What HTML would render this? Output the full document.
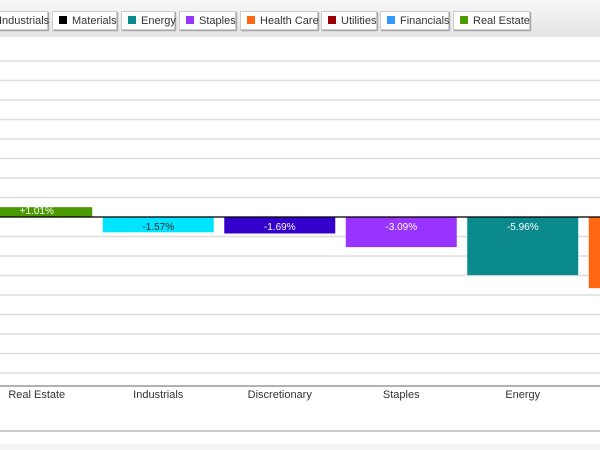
<!DOCTYPE html>
<html><head><meta charset="utf-8"><style>
body{margin:0;width:600px;height:450px;overflow:hidden;background:#fff;font-family:"Liberation Sans",sans-serif;position:relative}
#bar{position:absolute;left:0;top:0;width:600px;height:37px;background:linear-gradient(#f8f8f8,#e4e4e4);}
.btn{position:absolute;top:11px;height:19px;background:#fff;border:1px solid #ccc;box-shadow:1px 1px 1px #999;font-size:11px;line-height:19px;color:#333;white-space:nowrap;box-sizing:border-box;padding-left:6px}
.sw{display:inline-block;width:8px;height:8px;margin-right:5px;vertical-align:-0px}
</style></head><body>
<div id="bar">
<div class="btn" style="left:-8px;width:56px">Industrials</div>
<div class="btn" style="left:52px;width:65px"><span class="sw" style="background:#000"></span>Materials</div>
<div class="btn" style="left:121px;width:54px"><span class="sw" style="background:#0a8a8c"></span>Energy</div>
<div class="btn" style="left:179px;width:57px"><span class="sw" style="background:#9933ff"></span>Staples</div>
<div class="btn" style="left:240px;width:78px"><span class="sw" style="background:#ff6611"></span>Health Care</div>
<div class="btn" style="left:321px;width:56px"><span class="sw" style="background:#990000"></span>Utilities</div>
<div class="btn" style="left:380px;width:69px"><span class="sw" style="background:#3399ff"></span>Financials</div>
<div class="btn" style="left:453px;width:77px"><span class="sw" style="background:#4a9a00"></span>Real Estate</div>
</div>
<svg id="chart" width="600" height="450" style="position:absolute;left:0;top:0"></svg>
<script>
const categories=["Real Estate","Industrials","Discretionary","Staples","Energy","Health Care"];
const values=[1.01,-1.57,-1.69,-3.09,-5.96,-7.3];
const labels=["+1.01%","-1.57%","-1.69%","-3.09%","-5.96%","-7.30%"];
const colors=["#4a9a00","#00e5ff","#3300cc","#9933ff","#0a8a8c","#ff6611"];
const labelColors=["#fff","#222","#fff","#fff","#fff","#fff"];
const NS="http://www.w3.org/2000/svg";
const svg=document.getElementById('chart');
const zeroY=217, pxPer=9.75;
const y=v=>zeroY-v*pxPer;
const band=121.5, x0=-24;
const xc=i=>x0+band*i+band/2;
function mk(t,a){const e=document.createElementNS(NS,t);for(const k in a)e.setAttribute(k,a[k]);svg.appendChild(e);return e;}
for(let g=16;g>=-16;g-=2){const yy=y(g);if(yy<40||yy>380)continue;
const l=mk('line',{x1:0,x2:600,y1:yy,y2:yy,stroke:'#ddd','stroke-width':1.5});

}
values.forEach((v,i)=>{
const top=Math.min(y(v),y(0)),h=Math.abs(y(v)-y(0));
const r=mk('rect',{x:xc(i)-55.5,y:top,width:111,height:h,fill:colors[i]});


const t=mk('text',{x:xc(i),y:v>=0?top+7:zeroY+13,'text-anchor':'middle','font-size':10,fill:labelColors[i]});
t.textContent=labels[i];


const c=mk('text',{x:xc(i),y:398,'text-anchor':'middle','font-size':11,fill:'#333'});
c.textContent=categories[i];


});
const z=mk('line',{x1:0,x2:600,y1:zeroY,y2:zeroY,stroke:'#000','stroke-width':1.2});


const ax=mk('line',{x1:0,x2:600,y1:386,y2:386,stroke:'#999','stroke-width':1.5});


const b=mk('line',{x1:0,x2:600,y1:431,y2:431,stroke:'#aaa','stroke-width':1.2});


const bg=mk('rect',{x:0,y:444,width:600,height:6,fill:'#f4f4f4'});


</script>
</body></html>
